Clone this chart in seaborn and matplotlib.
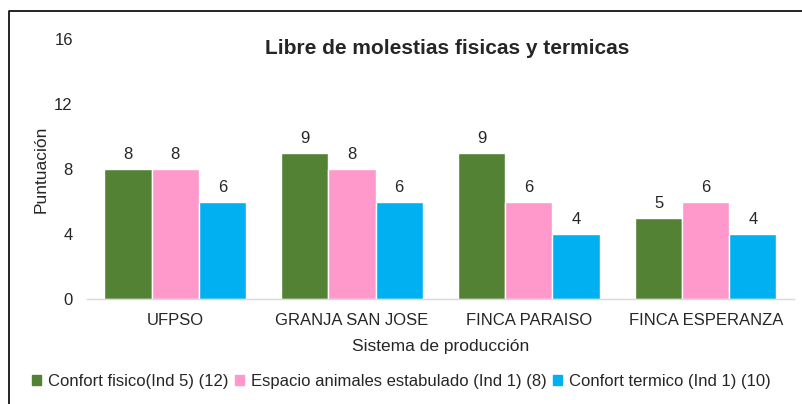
import pandas as pd
import matplotlib.pyplot as plt
import seaborn as sns
from matplotlib.lines import Line2D

# datos
sistemas = ["UFPSO", "GRANJA SAN JOSE", "FINCA PARAISO", "FINCA ESPERANZA"]
confort_fisico = [8, 9, 9, 5]
espacio_animales = [8, 8, 6, 6]
confort_termico = [6, 6, 4, 4]
series = ["Confort fisico(Ind 5) (12)",
          "Espacio animales estabulado (Ind 1) (8)",
          "Confort termico (Ind 1) (10)"]
colores = ["#548235", "#FF99CC", "#00B0F0"]

df = pd.DataFrame({
    "Sistema": sistemas * 3,
    "Serie": [series[0]] * 4 + [series[1]] * 4 + [series[2]] * 4,
    "Valor": confort_fisico + espacio_animales + confort_termico,
})

sns.set_style("white")
plt.rcParams["font.family"] = ["Liberation Sans", "DejaVu Sans"]

fig = plt.figure(figsize=(8.03, 4.04), dpi=100)
ax = fig.add_axes([0.108, 0.260, 0.881, 0.643])

sns.barplot(data=df, x="Sistema", y="Valor", hue="Serie", palette=colores,
            width=0.8, saturation=1, ax=ax, legend=True)

for c in ax.containers:
    ax.bar_label(c, fmt="%d", padding=5, fontsize=12)

ax.set_ylim(0, 16)
ax.set_yticks([0, 4, 8, 12, 16])
ax.set_xlim(-0.5, 3.5)
ax.tick_params(axis="both", labelsize=12, length=0)
ax.tick_params(axis="y", pad=10)
ax.tick_params(axis="x", pad=10)
for s in ["top", "right", "left"]:
    ax.spines[s].set_visible(False)
ax.spines["bottom"].set_color("#D9D9D9")
ax.spines["bottom"].set_linewidth(1)

ax.set_xlabel("Sistema de producción", fontsize=12.5, labelpad=8)
ax.set_ylabel("Puntuación", fontsize=12.5, labelpad=4)
fig.text(0.557, 0.88, "Libre de molestias fisicas y termicas",
         ha="center", va="center", fontsize=15, fontweight="bold")

ax.get_legend().remove()
handles = [plt.Rectangle((0, 0), 1, 1, color=c) for c in colores]
fig.legend(handles, series, loc="center", bbox_to_anchor=(0.5, 0.055),
           ncol=3, frameon=False, fontsize=12, handlelength=0.55,
           handleheight=0.55, handletextpad=0.4, columnspacing=0.4)

# marco del grafico (recortado a la derecha y abajo)
fig.add_artist(Line2D([0.0112, 0.0112, 1.0], [0.0, 0.973, 0.973],
                      transform=fig.transFigure, color="black", lw=1.2))

fig.savefig("out.png", dpi=100)
